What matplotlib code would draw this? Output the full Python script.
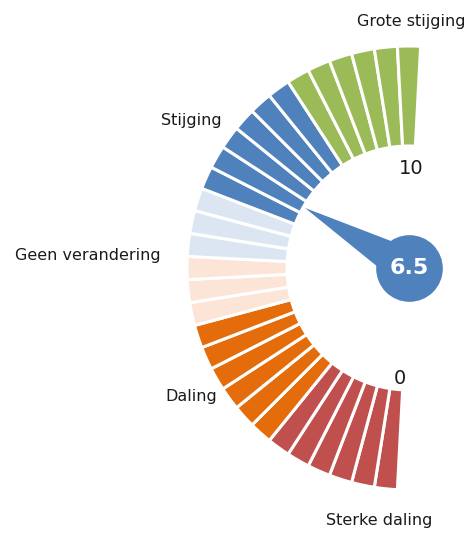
import matplotlib.pyplot as plt
import numpy as np

# gauge data
labels = ['Sterke daling', 'Daling', 'Geen verandering', 'Stijging', 'Grote stijging']
band_counts = [6, 6, 3, 3, 6, 6]
band_colors = ['#C0504D', '#E46C0A', '#FCE4D6', '#DCE6F2', '#4F81BD', '#9BBB59']
scale_min = 0
scale_max = 10
value = 6.5

n_seg = sum(band_counts)
seg_w = np.pi / n_seg
colors = [c for c, n in zip(band_colors, band_counts) for _ in range(n)]
starts = np.arange(n_seg) * seg_w

fig = plt.figure(figsize=(4.68, 5.34), dpi=100)
W, H = 468, 534
cx, cy, R = 409, 534 - 268, 235
ax = fig.add_axes([(cx - R) / W, (cy - R) / H, 2 * R / W, 2 * R / H], projection='polar')
ax.set_theta_zero_location('S', offset=-3)
ax.set_theta_direction(-1)
ax.set_rlim(0, R)
ax.axis('off')

r_in, r_out = 122, 222
ax.bar(starts, r_out - r_in, width=seg_w, bottom=r_in, align='edge',
       color=colors, edgecolor='white', linewidth=2.2)

# needle
blue = '#4F81BD'
t = (value - scale_min) / (scale_max - scale_min) * np.pi
ax.fill([t, t + np.pi / 2, t - np.pi / 2], [r_in - 2, 19, 19], color=blue, lw=0, zorder=3)
ax.plot([0], [0], 'o', ms=48, color=blue, mec='none', zorder=4)
ax.text(0, 0, f'{value:g}', color='white', fontsize=16, fontweight='bold',
        ha='center', va='center', zorder=5)

# scale ends
ax.text(np.radians(1.6), 111, f'{scale_min}', fontsize=14, ha='center', va='center', color='#1a1a1a')
ax.text(np.radians(178), 100, f'{scale_max}', fontsize=14, ha='center', va='center', color='#1a1a1a')

# category labels
lab_pos = [(3.8, 254, 'center'), (56.4, 253, 'center'), (89.8, 249, 'right'),
           (121.2, 263, 'center'), (177.5, 247, 'center')]
for lab, (a, r, ha) in zip(labels, lab_pos):
    ax.text(np.radians(a), r, lab, fontsize=11.5, ha=ha, va='center', color='#1a1a1a')

fig.savefig('out.png', dpi=100)
